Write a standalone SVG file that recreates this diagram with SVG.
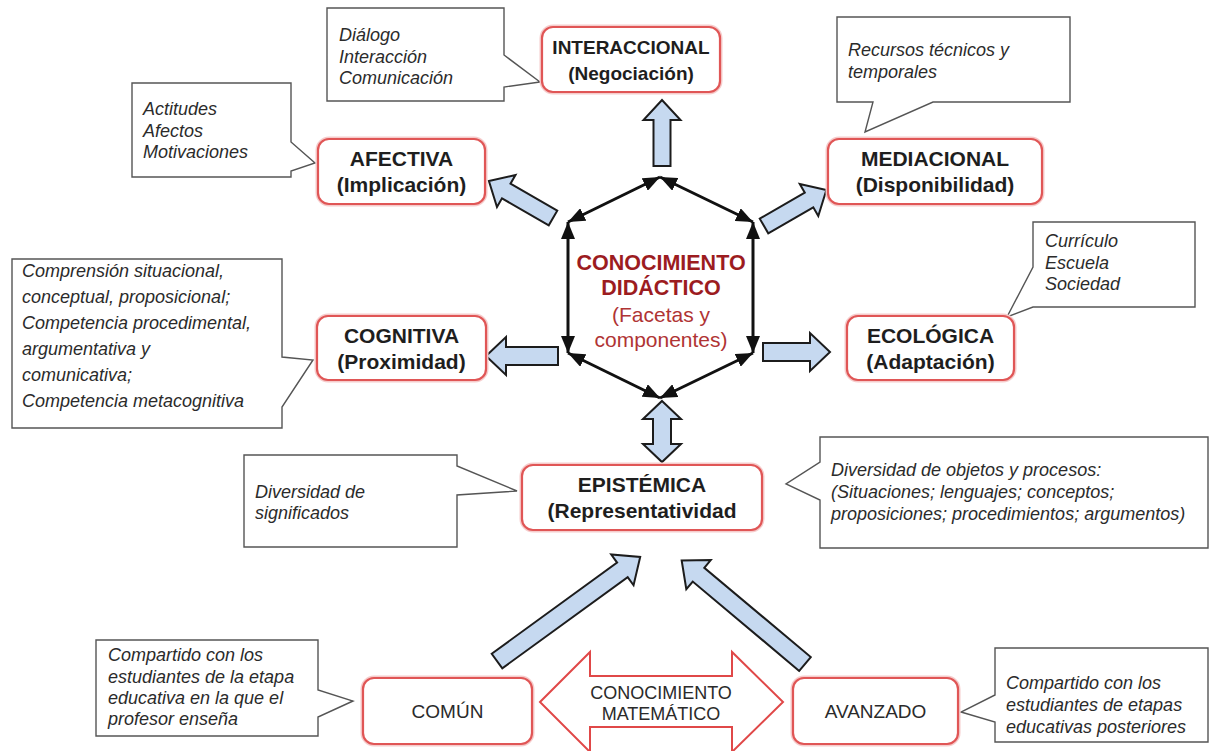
<svg xmlns="http://www.w3.org/2000/svg" width="1214" height="751" viewBox="0 0 1214 751">
<defs>
<style>
.node rect{fill:#fff;stroke:#e05656;stroke-width:2.2}
.node .halo{fill:none;stroke:#f6cccc;stroke-width:5}
.nt{font-family:"Liberation Sans",Arial,sans-serif;font-weight:bold;font-size:21px;fill:#1e1e1e;text-anchor:middle}
.nr{font-family:"Liberation Sans",Arial,sans-serif;font-size:19px;fill:#2a2a2a;text-anchor:middle}
.call path{fill:#fff;stroke:#555;stroke-width:1.4}
.ct{font-family:"Liberation Sans",Arial,sans-serif;font-style:italic;font-size:18px;fill:#2b2b2b}
.blk{fill:#c6d9f0;stroke:#1c1c1c;stroke-width:2;stroke-linejoin:miter}
.hex{stroke:#111;stroke-width:3;fill:none;marker-start:url(#ah);marker-end:url(#ah)}
.red{fill:#fff;stroke:#e04848;stroke-width:2}
.cb{font-family:"Liberation Sans",Arial,sans-serif;font-weight:bold;font-size:21.5px;fill:#9c1c1f;text-anchor:middle}
.cr{font-family:"Liberation Sans",Arial,sans-serif;font-size:21px;fill:#b03434;text-anchor:middle}
</style>
<marker id="ah" markerUnits="userSpaceOnUse" markerWidth="17" markerHeight="14" refX="17" refY="7" orient="auto-start-reverse">
<path d="M0,0 L17,7 L0,14 Z" fill="#111"/>
</marker>
</defs>
<rect width="1214" height="751" fill="#fff"/>

<g id="callouts">
<g id="call-interaccional" class="call">
<path d="M327,8 H504 V55 L540,82 L504,87 V101 H327 Z"/>
<text class="ct" x="339" y="41">Diálogo</text>
<text class="ct" x="339" y="63">Interacción</text>
<text class="ct" x="339" y="84">Comunicación</text>
</g>
<g id="call-mediacional" class="call">
<path d="M837,17 H1070 V102 H933 L865,132 L873,102 H837 Z"/>
<text class="ct" x="848" y="56">Recursos técnicos y</text>
<text class="ct" x="848" y="78">temporales</text>
</g>
<g id="call-afectiva" class="call">
<path d="M132,83 H291 V142 L315,163 L291,171 V177 H132 Z"/>
<text class="ct" x="143" y="115">Actitudes</text>
<text class="ct" x="143" y="137">Afectos</text>
<text class="ct" x="143" y="158">Motivaciones</text>
</g>
<g id="call-cognitiva" class="call">
<path d="M12,259 H282 V357 L313,360 L282,407 V428 H12 Z"/>
<text class="ct" x="22" y="277">Comprensión situacional,</text>
<text class="ct" x="22" y="303">conceptual, proposicional;</text>
<text class="ct" x="22" y="329">Competencia procedimental,</text>
<text class="ct" x="22" y="355">argumentativa y</text>
<text class="ct" x="22" y="381">comunicativa;</text>
<text class="ct" x="22" y="407">Competencia metacognitiva</text>
</g>
<g id="call-ecologica" class="call">
<path d="M1033,222 H1195 V307 H1033 L1007,317 L1033,267 Z"/>
<text class="ct" x="1045" y="247">Currículo</text>
<text class="ct" x="1045" y="269">Escuela</text>
<text class="ct" x="1045" y="290">Sociedad</text>
</g>
<g id="call-epistemica-l" class="call">
<path d="M244,455 H457 V466 L517,491 L457,495 V547 H244 Z"/>
<text class="ct" x="255" y="498">Diversidad de</text>
<text class="ct" x="255" y="519">significados</text>
</g>
<g id="call-epistemica-r" class="call">
<path d="M820,437 H1208 V548 H820 V500 L786,484 L820,462 Z"/>
<text class="ct" x="831" y="476">Diversidad de objetos y procesos:</text>
<text class="ct" x="831" y="498">(Situaciones; lenguajes; conceptos;</text>
<text class="ct" x="831" y="520">proposiciones; procedimientos; argumentos)</text>
</g>
<g id="call-comun" class="call">
<path d="M96,640 H318 V690 L353,701 L318,717 V736 H96 Z"/>
<text class="ct" x="108" y="661">Compartido con los</text>
<text class="ct" x="108" y="683">estudiantes de la etapa</text>
<text class="ct" x="108" y="704">educativa en la que el</text>
<text class="ct" x="108" y="725">profesor enseña</text>
</g>
<g id="call-avanzado" class="call">
<path d="M995,648 H1208 V742 H995 V722 L961,712 L995,695 Z"/>
<text class="ct" x="1006" y="689">Compartido con los</text>
<text class="ct" x="1006" y="711">estudiantes de etapas</text>
<text class="ct" x="1006" y="733">educativas posteriores</text>
</g>
</g>

<g id="connectors">
<polygon class="blk" transform="translate(662,166) rotate(-90)" points="0,-8.5 46,-8.5 46,-18.5 66,0 46,18.5 46,8.5 0,8.5"/>
<polygon class="blk" transform="translate(553,218) rotate(210)" points="0,-8.5 54,-8.5 54,-18.5 74,0 54,18.5 54,8.5 0,8.5"/>
<polygon class="blk" transform="translate(764,226) rotate(-30)" points="0,-8.5 52,-8.5 52,-18.5 72,0 52,18.5 52,8.5 0,8.5"/>
<polygon class="blk" transform="translate(558,356) rotate(180)" points="0,-9 52,-9 52,-19 72,0 52,19 52,9 0,9"/>
<polygon class="blk" transform="translate(763,352)" points="0,-9 47,-9 47,-19 67,0 47,19 47,9 0,9"/>
<polygon class="blk" points="662,401 681,419 671,419 671,444 681,444 662,462 643,444 653,444 653,419 643,419"/>
<polygon class="blk" transform="translate(497,661) rotate(-36)" points="0,-9 155,-9 155,-19 177,0 155,19 155,9 0,9"/>
<polygon class="blk" transform="translate(805,664) rotate(220)" points="0,-9 139,-9 139,-19 161,0 139,19 139,9 0,9"/>
<line class="hex" x1="660" y1="177" x2="753" y2="222"/>
<line class="hex" x1="753" y1="222" x2="753" y2="353"/>
<line class="hex" x1="753" y1="353" x2="660" y2="398"/>
<line class="hex" x1="660" y1="398" x2="568" y2="353"/>
<line class="hex" x1="568" y1="353" x2="568" y2="222"/>
<line class="hex" x1="568" y1="222" x2="660" y2="177"/>
</g>

<g id="center">
<text class="cb" x="661" y="270">CONOCIMIENTO</text>
<text class="cb" x="661" y="295">DIDÁCTICO</text>
<text class="cr" x="661" y="322">(Facetas y</text>
<text class="cr" x="661" y="347">componentes)</text>
</g>

<g id="node-interaccional" class="node">
<rect class="halo" x="542" y="27" width="178" height="65" rx="11"/>
<rect x="542" y="27" width="178" height="65" rx="11"/>
<text class="nt" x="631" y="54" style="font-size:19px">INTERACCIONAL</text>
<text class="nt" x="631" y="80" style="font-size:19px">(Negociación)</text>
</g>
<g id="node-afectiva" class="node">
<rect class="halo" x="318" y="139" width="167" height="65" rx="11"/>
<rect x="318" y="139" width="167" height="65" rx="11"/>
<text class="nt" x="401.5" y="166">AFECTIVA</text>
<text class="nt" x="401.5" y="192">(Implicación)</text>
</g>
<g id="node-mediacional" class="node">
<rect class="halo" x="828" y="139" width="214" height="65" rx="11"/>
<rect x="828" y="139" width="214" height="65" rx="11"/>
<text class="nt" x="935" y="166">MEDIACIONAL</text>
<text class="nt" x="935" y="192">(Disponibilidad)</text>
</g>
<g id="node-cognitiva" class="node">
<rect class="halo" x="317" y="316" width="169" height="64" rx="11"/>
<rect x="317" y="316" width="169" height="64" rx="11"/>
<text class="nt" x="401.5" y="343">COGNITIVA</text>
<text class="nt" x="401.5" y="369">(Proximidad)</text>
</g>
<g id="node-ecologica" class="node">
<rect class="halo" x="847" y="316" width="167" height="64" rx="11"/>
<rect x="847" y="316" width="167" height="64" rx="11"/>
<text class="nt" x="930.5" y="343">ECOLÓGICA</text>
<text class="nt" x="930.5" y="369">(Adaptación)</text>
</g>
<g id="node-epistemica" class="node">
<rect class="halo" x="522" y="465" width="240" height="65" rx="11"/>
<rect x="522" y="465" width="240" height="65" rx="11"/>
<text class="nt" x="642" y="492">EPISTÉMICA</text>
<text class="nt" x="642" y="518">(Representatividad</text>
</g>
<g id="node-comun" class="node">
<rect class="halo" x="363" y="678" width="169" height="66" rx="11"/>
<rect x="363" y="678" width="169" height="66" rx="11"/>
<text class="nr" x="447.5" y="718">COMÚN</text>
</g>
<g id="node-matematico">
<polygon class="red" points="540,702 590,652 590,676 732,676 732,652 783,702 732,752 732,727 590,727 590,752"/>
<text class="nr" x="661" y="699" style="font-size:18px">CONOCIMIENTO</text>
<text class="nr" x="661" y="720" style="font-size:18px">MATEMÁTICO</text>
</g>
<g id="node-avanzado" class="node">
<rect class="halo" x="793" y="678" width="165" height="66" rx="11"/>
<rect x="793" y="678" width="165" height="66" rx="11"/>
<text class="nr" x="875.5" y="718">AVANZADO</text>
</g>
</svg>
